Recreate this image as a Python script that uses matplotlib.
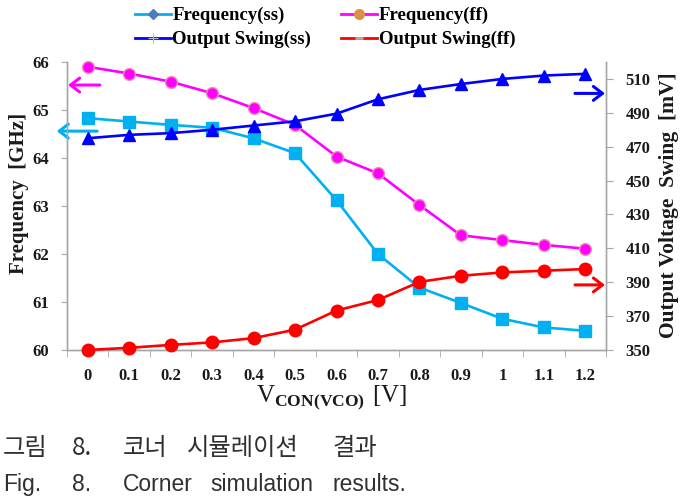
import matplotlib
matplotlib.use('Agg')
import matplotlib.pyplot as plt
from matplotlib.lines import Line2D
import numpy as np

# ---------------- data ----------------
x_labels = ['0', '0.1', '0.2', '0.3', '0.4', '0.5', '0.6', '0.7', '0.8', '0.9', '1', '1.1', '1.2']
freq_ss = [64.83, 64.76, 64.69, 64.63, 64.41, 64.10, 63.12, 62.00, 61.30, 60.98, 60.65, 60.47, 60.40]
freq_ff = [65.90, 65.76, 65.59, 65.35, 65.04, 64.69, 64.03, 63.68, 63.02, 62.39, 62.29, 62.19, 62.11]
swing_ss = [475, 477, 478, 480, 482.5, 485, 489.5, 498, 503.5, 507, 510, 512, 513]
swing_ff = [350, 351.3, 353, 354.5, 357, 362, 373.3, 379.5, 390.2, 393.8, 395.8, 396.8, 397.8]
freq_ticks = [60, 61, 62, 63, 64, 65, 66]
swing_ticks = [350, 370, 390, 410, 430, 450, 470, 490, 510]
legend_labels = ['Frequency(ss)', 'Output Swing(ss)', 'Frequency(ff)', 'Output Swing(ff)']

# ---------------- style ----------------
plt.rcParams['mathtext.fontset'] = 'custom'
plt.rcParams['mathtext.rm'] = 'Liberation Serif'
plt.rcParams['mathtext.bf'] = 'Liberation Serif:bold'

C_SS = '#00B0F0'
C_FF = '#FF00FF'
C_OSS = '#0000FF'
C_OFF = '#FF0000'
SPINE = '#A6A6A6'
TXT = '#1a1a1a'

W, H = 687, 497
fig = plt.figure(figsize=(W / 100, H / 100), dpi=100)
L, R, T, B = 67, 606, 62, 350
ax = fig.add_axes([L / W, 1 - B / H, (R - L) / W, (B - T) / H])

x = np.arange(len(x_labels))

ax.plot(x, freq_ss, color=C_SS, lw=1.9, marker='s', ms=8.5, mfc=C_SS, mec=C_SS, clip_on=False, zorder=3)
ax.plot(x, freq_ff, color=C_FF, lw=1.9, marker='o', ms=8.5, mfc=C_FF, mec='#F08CB0', mew=1.0, clip_on=False, zorder=3)
ax.set_xlim(-0.5, len(x_labels) - 0.5)
ax.set_ylim(60, 66)

ax2 = ax.twinx()
ax2.plot(x, swing_ss, color=C_OSS, lw=1.9, marker='^', ms=9, mfc=C_OSS, mec=C_OSS, clip_on=False, zorder=3)
ax2.plot(x, swing_ff, color=C_OFF, lw=1.9, marker='o', ms=9, mfc=C_OFF, mec=C_OFF, clip_on=False, zorder=3)
ax2.set_ylim(350, 520)

for a in (ax, ax2):
    a.spines['top'].set_visible(False)
    for s in ('left', 'right', 'bottom'):
        a.spines[s].set_color(SPINE)
        a.spines[s].set_linewidth(1.0)
    a.patch.set_visible(False)

tickfont = dict(family='Liberation Serif', weight='bold', size=12)

ax.set_xticks(x)
ax.set_xticklabels(x_labels, **tickfont, color=TXT)
ax.set_xticks(np.arange(-0.5, len(x_labels)), minor=True)
ax.tick_params(axis='x', which='major', length=0, pad=13)
ax.tick_params(axis='x', which='minor', length=5, color=SPINE, direction='out')

ax.set_yticks(freq_ticks)
ax.set_yticklabels([str(v) for v in freq_ticks], **tickfont, color=TXT)
ax.tick_params(axis='y', length=4, color=SPINE, direction='out', pad=9)

ax2.set_yticks(swing_ticks)
ax2.set_yticklabels([str(v) for v in swing_ticks], **tickfont, color=TXT)
ax2.tick_params(axis='y', length=5, color=SPINE, direction='out', pad=9)

# axis labels
fig.text(19 / W, 1 - 193 / H, 'Frequency  [GHz]', rotation=90, ha='center', va='center',
         family='Liberation Serif', weight='bold', size=15, color=TXT)
fig.text(669 / W, 1 - 205 / H, 'Output Voltage  Swing  [mV]', rotation=90, ha='center', va='center',
         family='Liberation Serif', weight='bold', size=15.5, color=TXT)
fig.text(332 / W, 1 - 398 / H, r'$\mathrm{V}_{\mathbf{CON(VCO)}}\ \mathrm{[V]}$', ha='center', va='center',
         size=18, color=TXT)

# direction arrows
def arrow(tip, tail, color):
    ax.annotate('', xy=tip, xytext=tail, xycoords='axes fraction', textcoords='axes fraction',
                arrowprops=dict(arrowstyle='->,head_length=0.65,head_width=0.5', color=color, lw=2.2,
                                shrinkA=0, shrinkB=0), annotation_clip=False)

arrow((0.002, 0.920), (0.061, 0.920), C_FF)
arrow((-0.019, 0.760), (0.056, 0.760), C_SS)
arrow((0.998, 0.891), (0.9425, 0.891), C_OSS)
arrow((0.998, 0.226), (0.9425, 0.226), C_OFF)

# legend
handles = [
    Line2D([], [], color=C_SS, lw=2, marker='D', ms=5, mfc='#4A7EBB', mec='#4A7EBB'),
    Line2D([], [], color=C_OSS, lw=2, marker='+', ms=7, mec='#A8B8F0', mew=0.8),
    Line2D([], [], color=C_FF, lw=2, marker='o', ms=7, mfc='#D9904A', mec='#D9904A'),
    Line2D([], [], color=C_OFF, lw=2, marker='_', ms=6, mec='#C8A0A0', mew=2),
]
fig.legend(handles, legend_labels, ncol=2, loc='upper left', bbox_to_anchor=(135 / W, 1 - 7 / H),
           frameon=False, borderpad=0, borderaxespad=0, handlelength=1.9, handletextpad=0.1,
           columnspacing=1.6, labelspacing=0.36,
           prop=dict(family='Liberation Serif', weight='bold', size=13.5))

# caption
cap_col = '#303030'
y1 = 1 - 448 / H
for txt, px in [('그림', 3), ('8.', 72), ('코너', 123), ('시뮬레이션', 187), ('결과', 332)]:
    fig.text(px / W, y1, txt, ha='left', va='center', size=17.5,
             family=['Noto Sans CJK KR', 'DejaVu Sans'], color=cap_col)
y2 = 1 - 491 / H
for txt, px in [('Fig.', 3), ('8.', 72), ('Corner', 123), ('simulation', 210), ('results.', 333)]:
    fig.text(px / W, y2, txt, ha='left', va='baseline', size=16.5,
             family='Liberation Sans', color=cap_col)

fig.savefig('out.png', dpi=100)
